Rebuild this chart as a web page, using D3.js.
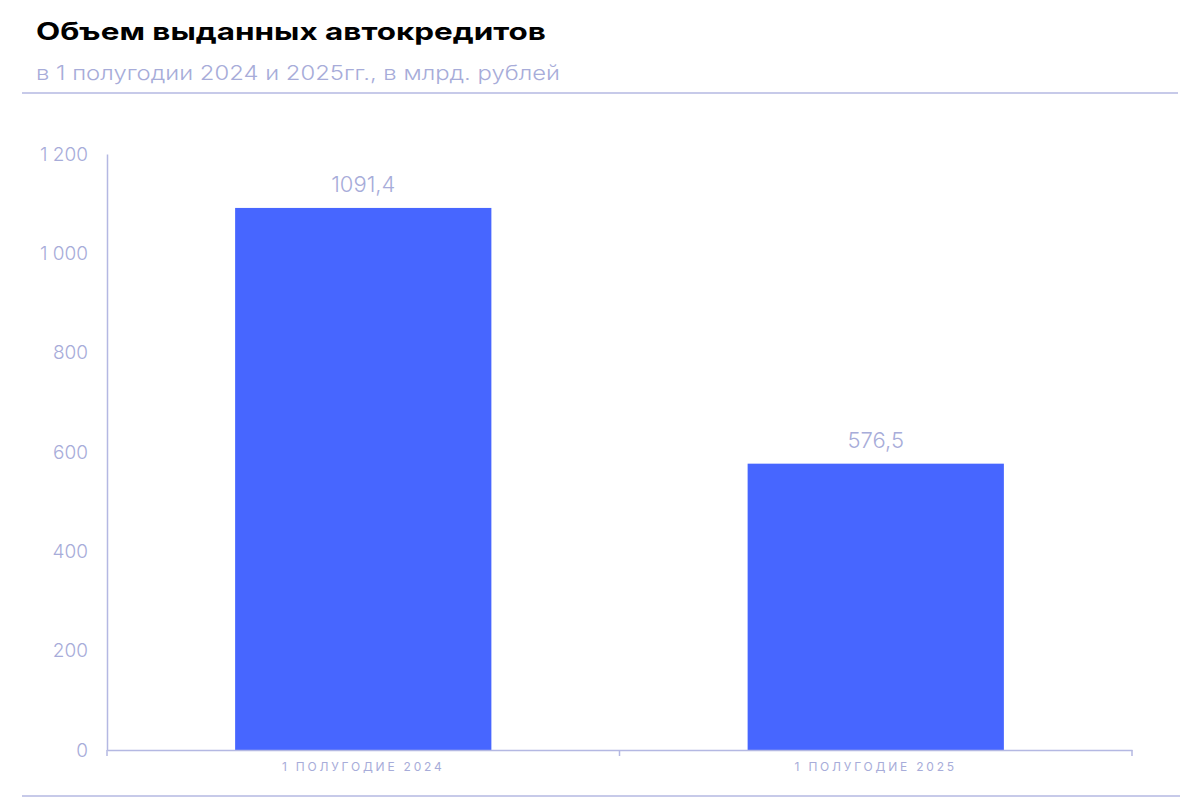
<!DOCTYPE html>
<html><head><meta charset="utf-8">
<script src="https://cdn.jsdelivr.net/npm/d3@7"></script>
<style>html,body{margin:0;padding:0;background:#fff;}svg{display:block;font-family:Inter,"Noto Sans",sans-serif;}</style>
</head><body>
<svg id="c" width="1200" height="800"></svg>
<script>
const title = "Объем выданных автокредитов";
const subtitle = "в 1 полугодии 2024 и 2025гг., в млрд. рублей";
const categories = ["1 ПОЛУГОДИЕ 2024", "1 ПОЛУГОДИЕ 2025"];
const values = [1091.4, 576.5];
const valueLabels = ["1091,4", "576,5"];
const yTicks = [0, 200, 400, 600, 800, 1000, 1200];
const yTickLabels = ["0", "200", "400", "600", "800", "1 000", "1 200"];

const svg = d3.select("#c");
const lav = "#a7acd9";
const lineCol = "#b4b8e2";
const barCol = "#4766ff";

svg.append("text").attr("x", 36).attr("y", 40)
  .attr("font-size", 24).attr("font-weight", 700).attr("fill", "#000")
  .attr("textLength", 510).attr("lengthAdjust", "spacingAndGlyphs").text(title);
svg.append("text").attr("x", 36).attr("y", 80)
  .attr("font-size", 20).attr("font-weight", 300).attr("fill", lav)
  .attr("textLength", 524).attr("lengthAdjust", "spacingAndGlyphs").text(subtitle);
svg.append("line").attr("x1", 22).attr("x2", 1178).attr("y1", 93).attr("y2", 93)
  .attr("stroke", lineCol).attr("stroke-width", 1.5);
svg.append("line").attr("x1", 22).attr("x2", 1180).attr("y1", 796).attr("y2", 796)
  .attr("stroke", lineCol).attr("stroke-width", 1.5);

const x = d3.scaleBand().domain(categories).range([107, 1132]).paddingInner(0.5).paddingOuter(0.25);
const y = d3.scaleLinear().domain([0, 1200]).range([750, 154]);

// y axis
const ya = svg.append("g").attr("transform", "translate(107,0)")
  .call(d3.axisLeft(y).tickValues(yTicks).tickSize(0).tickPadding(19)
    .tickFormat((d, i) => yTickLabels[i]));
ya.select(".domain").attr("stroke", lineCol).attr("stroke-width", 1.5);
ya.selectAll("text").attr("fill", lav).attr("font-size", 19).attr("font-weight", 300)
  .attr("font-family", "Inter,'Noto Sans',sans-serif");

// bars
svg.append("g").selectAll("rect").data(values).join("rect")
  .attr("x", (d, i) => x(categories[i]))
  .attr("width", x.bandwidth())
  .attr("y", d => y(d))
  .attr("height", d => y(0) - y(d))
  .attr("fill", barCol);

svg.append("g").selectAll("text").data(values).join("text")
  .attr("x", (d, i) => x(categories[i]) + x.bandwidth() / 2)
  .attr("y", d => y(d) - 16)
  .attr("text-anchor", "middle").attr("font-size", 22).attr("font-weight", 300).attr("fill", lav)
  .text((d, i) => valueLabels[i]);

// x axis
const xa = svg.append("g").attr("transform", "translate(0,750)")
  .call(d3.axisBottom(x).tickSize(0).tickPadding(12));
xa.select(".domain").attr("stroke", lineCol).attr("stroke-width", 1.5);
xa.selectAll("text").attr("fill", lav).attr("font-size", 12).attr("letter-spacing", "2.8px")
  .attr("font-family", "Inter,'Noto Sans',sans-serif");
// boundary ticks between bands
const bounds = [x.range()[0], (x(categories[0]) + x.bandwidth() + x(categories[1])) / 2, x.range()[1]];
xa.selectAll("line.b").data(bounds).join("line").attr("class", "b")
  .attr("x1", d => d).attr("x2", d => d).attr("y1", 0).attr("y2", 6)
  .attr("stroke", lineCol).attr("stroke-width", 1.5);
</script>
</body></html>
